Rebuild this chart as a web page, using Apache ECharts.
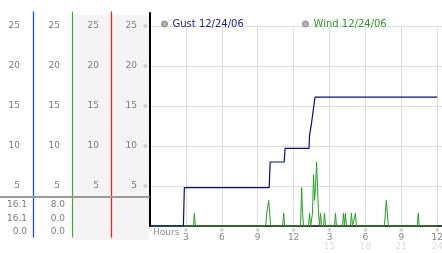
<!DOCTYPE html>
<html><head><meta charset="utf-8">
<script src="https://cdn.jsdelivr.net/npm/echarts@6.0.0/dist/echarts.min.js"></script>
<style>html,body{margin:0;padding:0;background:#fff}#c{width:442px;height:253px}</style>
</head><body><div id="c"></div>
<script>
const FONT = 'DejaVu Sans';
const gustName = 'Gust 12/24/06';
const windName = 'Wind 12/24/06';
const gustHours = [0, 2.79, 2.87, 9.96, 10.04, 11.21, 11.29, 13.29, 13.33, 13.46, 13.5, 13.63, 13.79, 24];
const gustValues = [0, 0, 4.8, 4.8, 8.0, 8.0, 9.7, 9.7, 11.3, 11.3, 12.9, 12.9, 16.1, 16.1];
const windHours = [0, 3.63, 3.71, 3.79, 9.67, 9.75, 9.83, 9.92, 10.0, 10.08, 11.08, 11.17, 11.25, 12.58, 12.67, 12.75, 12.83, 13.25, 13.33, 13.42, 13.5, 13.58, 13.67, 13.75, 13.83, 13.92, 14.0, 14.08, 14.17, 14.25, 14.33, 14.5, 14.58, 14.67, 15.42, 15.5, 15.58, 16.08, 16.17, 16.25, 16.33, 16.42, 16.75, 16.83, 16.92, 17.08, 17.17, 17.25, 19.58, 19.67, 19.75, 19.83, 19.92, 22.33, 22.42, 22.5, 24];
const windValues = [0, 0, 1.6, 0, 0, 1.6, 1.6, 3.2, 1.6, 0, 0, 1.6, 0, 0, 4.8, 1.6, 0, 0, 1.6, 0, 0, 1.6, 6.4, 3.2, 4.8, 8.0, 4.8, 1.6, 0, 1.6, 0, 0, 1.6, 0, 0, 1.6, 0, 0, 1.6, 0, 1.6, 0, 0, 1.6, 0, 0, 1.6, 0, 0, 1.6, 3.2, 1.6, 0, 0, 1.6, 0, 0];
const xTickTop = ['3', '6', '9', '12', '3', '6', '9', '12'];
const xTickBottom = ['', '', '', '', '15', '18', '21', '24'];
const yTicks = ['5', '10', '15', '20', '25'];
const gustStats = ['16.1', '16.1', '0.0'];
const windStats = ['8.0', '0.0', '0.0'];

const zip = (a, b) => a.map((v, i) => [v, b[i]]);
const isMult = (v, s) => Math.abs(v / s - Math.round(v / s)) < 1e-6;
const yFmt = v => { if (!isMult(v, 5)) return ''; const i = Math.round(v / 5) - 1; return (i >= 0 && i < yTicks.length) ? yTicks[i] : ''; };
const xFmt = v => {
  if (!isMult(v, 3)) return '';
  const i = Math.round(v / 3) - 1;
  if (i < 0 || i >= xTickTop.length) return '';
  return '{m|※}\n{a|' + xTickTop[i] + '}\n{b|' + (xTickBottom[i] || ' ') + '}';
};

const off = { show: false };
function colAxis(offset, margin) {
  return { type: 'value', gridIndex: 0, min: 0, max: 25, interval: 5, position: 'left', offset: offset,
    axisLine: { show: false, onZero: false }, axisTick: off, splitLine: off,
    axisLabel: { formatter: yFmt, margin: margin, color: '#7a7a7a', fontSize: 9, fontFamily: FONT } };
}
function lineAxis(grid, offset, color, width) {
  return { type: 'value', gridIndex: grid, min: 0, max: 1, position: 'left', offset: offset,
    axisLine: { show: true, onZero: false, lineStyle: { color: color, width: width } }, axisTick: off, splitLine: off, axisLabel: off };
}
function hiddenX(grid) { return { type: 'value', gridIndex: grid, min: 0, max: 1, show: false, axisLine: { onZero: false } }; }

const chart = echarts.init(document.getElementById('c'), null, { renderer: 'canvas' });
chart.setOption({
  animation: false,
  backgroundColor: '#fff',
  grid: [
    { left: 150, right: 0, top: 26, bottom: 27, outerBoundsMode: 'none' },
    { left: 150, right: 0, top: 12, bottom: 16, outerBoundsMode: 'none' },
    { left: 150, right: 0, top: 13, bottom: 27, outerBoundsMode: 'none' },
    { left: 72, width: 77, top: 15, bottom: 13, show: true, backgroundColor: '#f4f4f4', borderWidth: 0, z: -1, outerBoundsMode: 'none' },
    { left: 0, width: 149, top: 100, bottom: 56, outerBoundsMode: 'none' }
  ],
  legend: [
    { left: 156, top: 14, itemWidth: 6, itemHeight: 6, icon: 'circle',
      data: [{ name: gustName, itemStyle: { color: '#b0b0b0', borderColor: '#888', borderWidth: 1 }, textStyle: { color: '#1c1c96' } }],
      textStyle: { fontSize: 10, fontFamily: FONT } },
    { left: 297, top: 14, itemWidth: 6, itemHeight: 6, icon: 'circle',
      data: [{ name: windName, itemStyle: { color: '#b0b0b0', borderColor: '#888', borderWidth: 1 }, textStyle: { color: '#2a9a2a' } }],
      textStyle: { fontSize: 10, fontFamily: FONT } }
  ],
  xAxis: [
    { type: 'value', gridIndex: 0, min: 0, max: 24.4, interval: 3,
      axisLine: { show: true, onZero: false, lineStyle: { color: '#000', width: 1.5 } }, axisTick: off,
      splitLine: { show: true, showMaxLine: false, lineStyle: { color: '#dedede', width: 1 } },
      axisLabel: { formatter: xFmt, margin: 1, showMaxLabel: false, fontFamily: FONT,
        rich: {
          m: { fontSize: 6, color: '#aaa', lineHeight: 6, fontFamily: FONT },
          a: { fontSize: 9, color: '#888', lineHeight: 9, fontFamily: FONT },
          b: { fontSize: 9, color: '#dcdcdc', lineHeight: 10, fontFamily: FONT }
        } } },
    hiddenX(1), hiddenX(2), hiddenX(3),
    { type: 'value', gridIndex: 4, min: 0, max: 1, position: 'bottom',
      axisLine: { show: true, onZero: false, lineStyle: { color: '#9a9a9a', width: 2 } }, axisTick: off, splitLine: off, axisLabel: off }
  ],
  yAxis: [
    { type: 'value', gridIndex: 0, min: 0, max: 25, interval: 5,
      axisLine: { show: false, onZero: false }, axisTick: off,
      splitLine: { show: true, showMinLine: false, lineStyle: { color: '#dedede', width: 1 } },
      axisLabel: { formatter: v => (v > 0 && isMult(v, 5)) ? '※' : '', margin: 2, fontSize: 6, color: '#aaa', fontFamily: FONT } },
    colAxis(0, 13), colAxis(39, 12), colAxis(78, 12), colAxis(117, 13),
    lineAxis(1, 117, '#1f4fe0', 1.3), lineAxis(1, 78, '#33b033', 1.2), lineAxis(1, 39, '#e02828', 1.3),
    lineAxis(2, 0, '#000', 2),
    { type: 'value', gridIndex: 3, min: 0, max: 1, show: false, axisLine: { onZero: false } },
    { type: 'value', gridIndex: 4, min: 0, max: 1, show: false, axisLine: { onZero: false } }
  ],
  graphic: [
    { type: 'text', left: 153, top: 228, style: { text: 'Hours', fontSize: 9, fill: '#888', fontFamily: FONT } },
    ...gustStats.map((t, i) => ({ type: 'text', x: 27, y: 205 + i * 13.3, style: { text: t, fontSize: 9, fill: '#7a7a7a', fontFamily: FONT, textAlign: 'right', textVerticalAlign: 'middle' } })),
    ...windStats.map((t, i) => ({ type: 'text', x: 65, y: 205 + i * 13.3, style: { text: t, fontSize: 9, fill: '#7a7a7a', fontFamily: FONT, textAlign: 'right', textVerticalAlign: 'middle' } }))
  ],
  series: [
    { name: windName, type: 'line', xAxisIndex: 0, yAxisIndex: 0, data: zip(windHours, windValues), showSymbol: false,
      lineStyle: { color: '#22a022', width: 1 }, itemStyle: { color: '#22a022' } },
    { name: gustName, type: 'line', xAxisIndex: 0, yAxisIndex: 0, data: zip(gustHours, gustValues), showSymbol: false,
      lineStyle: { color: '#0a0a86', width: 1.2 }, itemStyle: { color: '#0a0a86' } }
  ]
});
</script></body></html>
